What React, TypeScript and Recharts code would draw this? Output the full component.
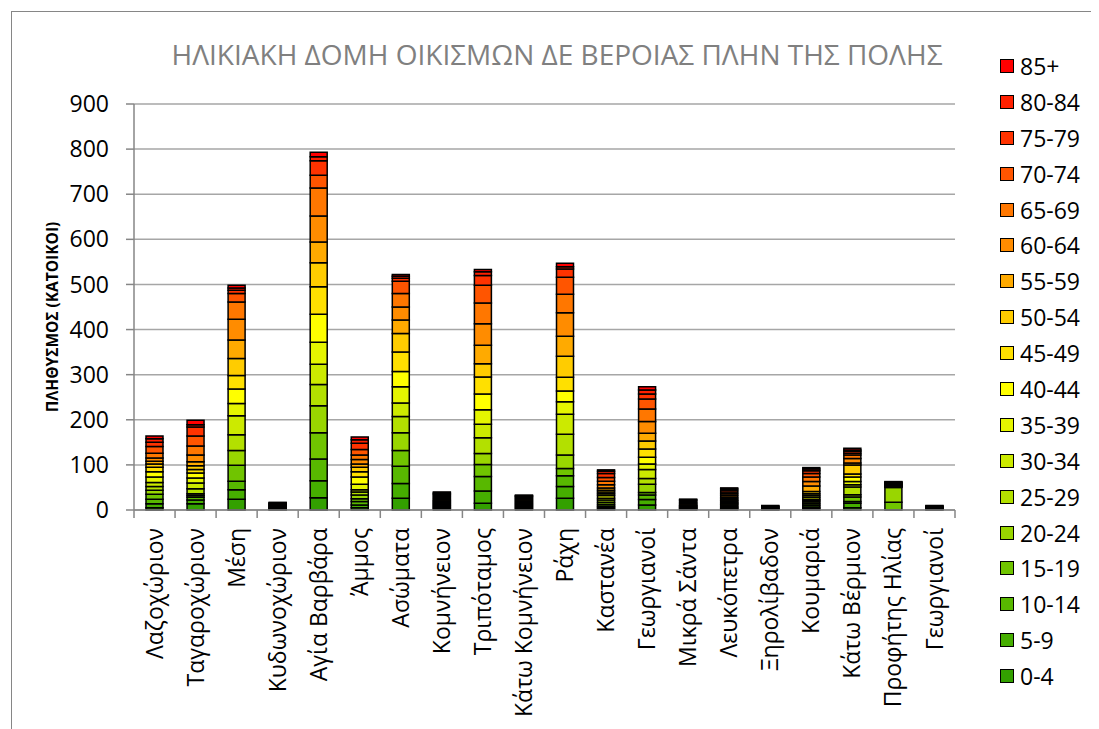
import { BarChart, Bar, XAxis, YAxis, CartesianGrid } from 'recharts';

const villages = [
  "Λαζοχώριον", "Ταγαροχώριον", "Μέση", "Κυδωνοχώριον", "Αγία Βαρβάρα",
  "Άμμος", "Ασώματα", "Κομνήνειον", "Τριπόταμος", "Κάτω Κομνήνειον",
  "Ράχη", "Καστανέα", "Γεωργιανοί", "Μικρά Σάντα", "Λευκόπετρα",
  "Ξηρολίβαδον", "Κουμαριά", "Κάτω Βέρμιον", "Προφήτης Ηλίας", "Γεωργιανοί",
];

const ageGroups = [
  "0-4", "5-9", "10-14", "15-19", "20-24", "25-29", "30-34", "35-39", "40-44",
  "45-49", "50-54", "55-59", "60-64", "65-69", "70-74", "75-79", "80-84", "85+",
];

const ageColors = [
  "#33A000", "#46AE00", "#58B800", "#70C400", "#99D600", "#B3E000", "#CCEA00", "#E5F500", "#FFFF00",
  "#FFE000", "#FFCC00", "#FFAA00", "#FF8C00", "#FF7700", "#FF5500", "#FF3300", "#FF2000", "#FF0000",
];

// population per age group (0-4 ... 85+) for each settlement
const lazochorion = [5, 9, 10, 11, 9, 8, 9, 12, 12, 10, 7, 6, 7, 11, 15, 9, 8, 6];
const tagarochorion = [14, 8, 6, 4, 4, 11, 13, 11, 11, 8, 8, 9, 15, 20, 22, 20, 5, 10];
const mesi = [24, 21, 19, 35, 33, 35, 42, 27, 32, 30, 38, 41, 46, 38, 19, 7, 5, 6];
const kydonochorion = [1, 1, 1, 1, 1, 1, 1, 1, 1, 1, 1, 1, 1, 1, 1, 1, 0, 1];
const agiaVarvara = [27, 38, 48, 58, 60, 47, 45, 49, 62, 61, 53, 46, 58, 62, 28, 32, 9, 10];
const ammos = [5, 6, 8, 6, 8, 7, 5, 12, 16, 12, 10, 7, 10, 10, 12, 14, 8, 6];
const asomata = [26, 33, 38, 35, 39, 36, 30, 36, 34, 43, 41, 30, 29, 30, 27, 7, 4, 4];
const komnineion = [2, 2, 2, 2, 2, 2, 2, 2, 2, 2, 2, 3, 3, 3, 3, 2, 2, 2];
const tripotamos = [15, 27, 32, 27, 24, 35, 30, 32, 35, 38, 29, 41, 48, 46, 39, 22, 8, 5];
const katoKomnineion = [2, 2, 2, 2, 2, 2, 2, 2, 2, 2, 2, 2, 2, 2, 2, 1, 1, 1];
const rachi = [26, 26, 24, 16, 30, 46, 44, 28, 24, 30, 47, 44, 52, 41, 38, 18, 5, 8];
const kastania = [3, 3, 3, 4, 4, 5, 4, 6, 4, 4, 4, 5, 7, 8, 8, 9, 5, 3];
const georgianoi = [11, 12, 10, 6, 18, 13, 20, 12, 15, 18, 18, 17, 26, 28, 22, 11, 9, 7];
const mikraSanta = [1, 1, 1, 1, 1, 1, 1, 1, 1, 1, 1, 2, 2, 2, 3, 2, 1, 1];
const lefkopetra = [2, 2, 2, 2, 3, 2, 2, 2, 3, 2, 3, 3, 4, 4, 4, 4, 3, 2];
const xirolivadon = [0, 0, 1, 1, 1, 1, 1, 0, 1, 1, 1, 0, 1, 0, 1, 0, 0, 0];
const koumaria = [3, 3, 4, 4, 4, 3, 3, 4, 4, 4, 5, 12, 10, 10, 8, 6, 4, 3];
const katoVermion = [5, 10, 4, 10, 5, 17, 5, 7, 10, 7, 20, 4, 10, 8, 4, 4, 3, 4];
const profitisIlias = [0, 0, 0, 17, 33, 1, 1, 1, 1, 1, 1, 1, 1, 1, 1, 1, 1, 1];
const georgianoi2 = [1, 1, 1, 1, 0, 1, 0, 1, 0, 1, 0, 1, 0, 1, 0, 1, 0, 0];

const yTicks = [0, 100, 200, 300, 400, 500, 600, 700, 800, 900];

const rows = [
  lazochorion, tagarochorion, mesi, kydonochorion, agiaVarvara, ammos, asomata,
  komnineion, tripotamos, katoKomnineion, rachi, kastania, georgianoi, mikraSanta,
  lefkopetra, xirolivadon, koumaria, katoVermion, profitisIlias, georgianoi2,
];

const data = villages.map((name, i) => {
  const row: Record<string, any> = { name };
  ageGroups.forEach((_, j) => { row["a" + j] = rows[i][j]; });
  return row;
});

const FONT = "'Open Sans', sans-serif";
const W = 1091;
const H = 721;
const M = { top: 96, right: 144, bottom: 0, left: 0 };
const Y_W = 126;
const band = (W - M.right - Y_W) / villages.length;

const XTick = (props: any) => {
  const { x, y, payload, index } = props;
  const ty = y + 18;
  return (
    <g>
      <line x1={x - band / 2} x2={x - band / 2} y1={y} y2={y + 8} stroke="#868686" strokeWidth={1.5} />
      {index === villages.length - 1 && (
        <line x1={x + band / 2} x2={x + band / 2} y1={y} y2={y + 8} stroke="#868686" strokeWidth={1.5} />
      )}
      <text
        x={x}
        y={ty}
        dy="0.35em"
        transform={`rotate(-90 ${x} ${ty})`}
        textAnchor="end"
        fontSize={23}
        fontFamily={FONT}
        fill="#000"
      >
        {payload.value}
      </text>
    </g>
  );
};

export default function App() {
  return (
    <div style={{ position: 'relative', width: W, height: H, overflow: 'hidden', background: '#fff', fontFamily: FONT }}>
      <div style={{ position: 'absolute', left: 3, top: 3, width: 1200, height: 900, border: '1px solid #868686' }} />
      <div style={{ position: 'absolute', left: 99, top: 26, width: 900, textAlign: 'center', fontSize: 28, color: '#808080', lineHeight: '40px' }}>
        ΗΛΙΚΙΑΚΗ ΔΟΜΗ ΟΙΚΙΣΜΩΝ ΔΕ ΒΕΡΟΙΑΣ ΠΛΗΝ ΤΗΣ ΠΟΛΗΣ
      </div>
      <div style={{ position: 'absolute', left: 44 - 150, top: 309 - 10, width: 300, height: 20, textAlign: 'center', transform: 'rotate(-90deg)', fontSize: 15.5, fontWeight: 700, lineHeight: '20px' }}>
        ΠΛΗΘΥΣΜΟΣ (ΚΑΤΟΙΚΟΙ)
      </div>
      <BarChart width={W} height={H} data={data} margin={M} barSize={17} style={{ position: 'absolute', left: 0, top: 0 }}>
        <CartesianGrid vertical={false} stroke="#A6A6A6" strokeWidth={1.5} />
        <XAxis
          dataKey="name"
          interval={0}
          height={219}
          tickSize={0}
          tickMargin={0}
          tick={<XTick />}
          axisLine={{ stroke: '#868686', strokeWidth: 1.5 }}
          tickLine={false}
        />
        <YAxis
          width={Y_W}
          domain={[0, 900]}
          ticks={yTicks}
          interval={0}
          tickSize={8}
          tickMargin={17}
          tick={{ fontSize: 23, fontFamily: FONT, fill: '#000' }}
          axisLine={{ stroke: '#868686', strokeWidth: 1.5 }}
          tickLine={{ stroke: '#868686', strokeWidth: 1.5 }}
        />
        {ageGroups.map((g, j) => (
          <Bar
            key={g}
            dataKey={"a" + j}
            name={g}
            stackId="s"
            fill={ageColors[j]}
            stroke="#000"
            strokeWidth={1.5}
            isAnimationActive={false}
          />
        ))}
      </BarChart>
      <div style={{ position: 'absolute', left: 992, top: 40, width: 100 }}>
        {ageGroups.map((g, j) => ageGroups[ageGroups.length - 1 - j]).map((g) => {
          const j = ageGroups.indexOf(g);
          return (
            <div key={g} style={{ height: 35.9, display: 'flex', alignItems: 'center' }}>
              <span style={{ width: 12, height: 12, background: ageColors[j], border: '1.5px solid #000', marginRight: 6, flex: 'none' }} />
              <span style={{ fontSize: 23, lineHeight: '30px' }}>{g}</span>
            </div>
          );
        })}
      </div>
    </div>
  );
}
